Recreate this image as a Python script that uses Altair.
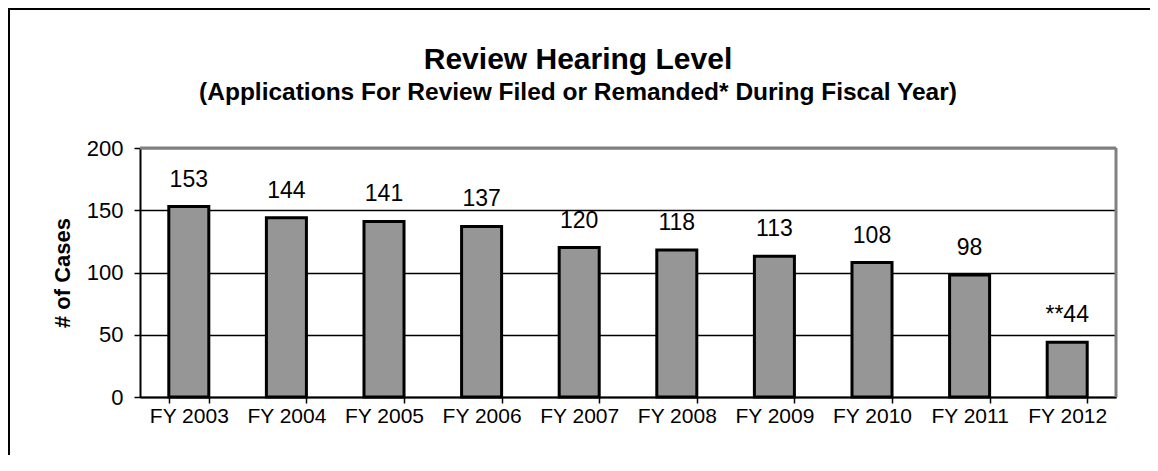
import altair as alt
import pandas as pd

years = ["FY 2003", "FY 2004", "FY 2005", "FY 2006", "FY 2007",
         "FY 2008", "FY 2009", "FY 2010", "FY 2011", "FY 2012"]
cases = [153, 144, 141, 137, 120, 118, 113, 108, 98, 44]
labels = ["153", "144", "141", "137", "120", "118", "113", "108", "98", "**44"]

df = pd.DataFrame({"year": years, "cases": cases, "label": labels})

FONT = "Liberation Sans"
W, H = 976, 249

x_enc = alt.X("year:N", sort=years,
              scale=alt.Scale(paddingInner=0.59, paddingOuter=0.295),
              axis=alt.Axis(title=None, tickBand="extent", labelAngle=0,
                            labelFont=FONT, labelFontSize=21, labelColor="black",
                            labelPadding=2, tickColor="black", tickSize=6,
                            tickWidth=1.5, domainColor="black", domainWidth=2,
                            grid=False))
y_scale = alt.Scale(domain=[0, 200], nice=False)

base = alt.Chart(df)

bars = base.mark_bar(fill="#969696", stroke="black", strokeWidth=3).encode(
    x=x_enc,
    y=alt.Y("cases:Q", scale=y_scale,
            axis=alt.Axis(title="# of Cases", values=[0, 50, 100, 150, 200],
                          gridColor="black", gridWidth=1.5, grid=True,
                          labelFont=FONT, labelFontSize=22, labelColor="black",
                          labelPadding=11, tickColor="black", tickSize=6,
                          tickWidth=1.5, domainColor="black", domainWidth=2,
                          titleFont=FONT, titleFontSize=22, titleFontWeight="bold",
                          titleColor="black", titleAngle=-90,
                          titleX=-78, titleY=H / 2, titleAlign="center",
                          titleBaseline="middle")),
)

text = base.mark_text(font=FONT, fontSize=23, color="black",
                      baseline="bottom", dy=-15).encode(
    x=alt.X("year:N", sort=years),
    y=alt.Y("cases:Q", scale=y_scale),
    text="label:N",
)

one = "datum.year == 'FY 2003'"
top_edge = base.mark_rule(color="#808080", strokeWidth=3).encode(
    x=alt.value(0), x2=alt.value(W), y=alt.value(0)
).transform_filter(one)
right_edge = base.mark_rule(color="#808080", strokeWidth=3).encode(
    x=alt.value(W), y=alt.value(0), y2=alt.value(H)
).transform_filter(one)

frame_left = base.mark_rule(color="black", strokeWidth=2).encode(
    x=alt.value(-131), y=alt.value(-139), y2=alt.value(340)
).transform_filter(one)
frame_top = base.mark_rule(color="black", strokeWidth=2).encode(
    x=alt.value(-132), x2=alt.value(1100), y=alt.value(-139)
).transform_filter(one)

chart = alt.layer(bars, top_edge, right_edge, text, frame_left, frame_top).properties(
    width=W, height=H,
    title=alt.TitleParams(
        text="Review Hearing Level",
        subtitle="(Applications For Review Filed or Remanded* During Fiscal Year)",
        font=FONT, fontSize=30, fontWeight="bold", color="black",
        subtitleFont=FONT, subtitleFontSize=24.5, subtitleFontWeight="bold",
        subtitleColor="black", subtitlePadding=6,
        anchor="middle", frame="group", dx=-50, offset=-96,
    ),
    autosize=alt.AutoSizeParams(type="none"),
    padding={"left": 132, "top": 140, "right": 34, "bottom": 58},
).configure_view(stroke=None).configure(background="white")

chart.save("out.html", embed_options={"renderer": "svg", "actions": False})
